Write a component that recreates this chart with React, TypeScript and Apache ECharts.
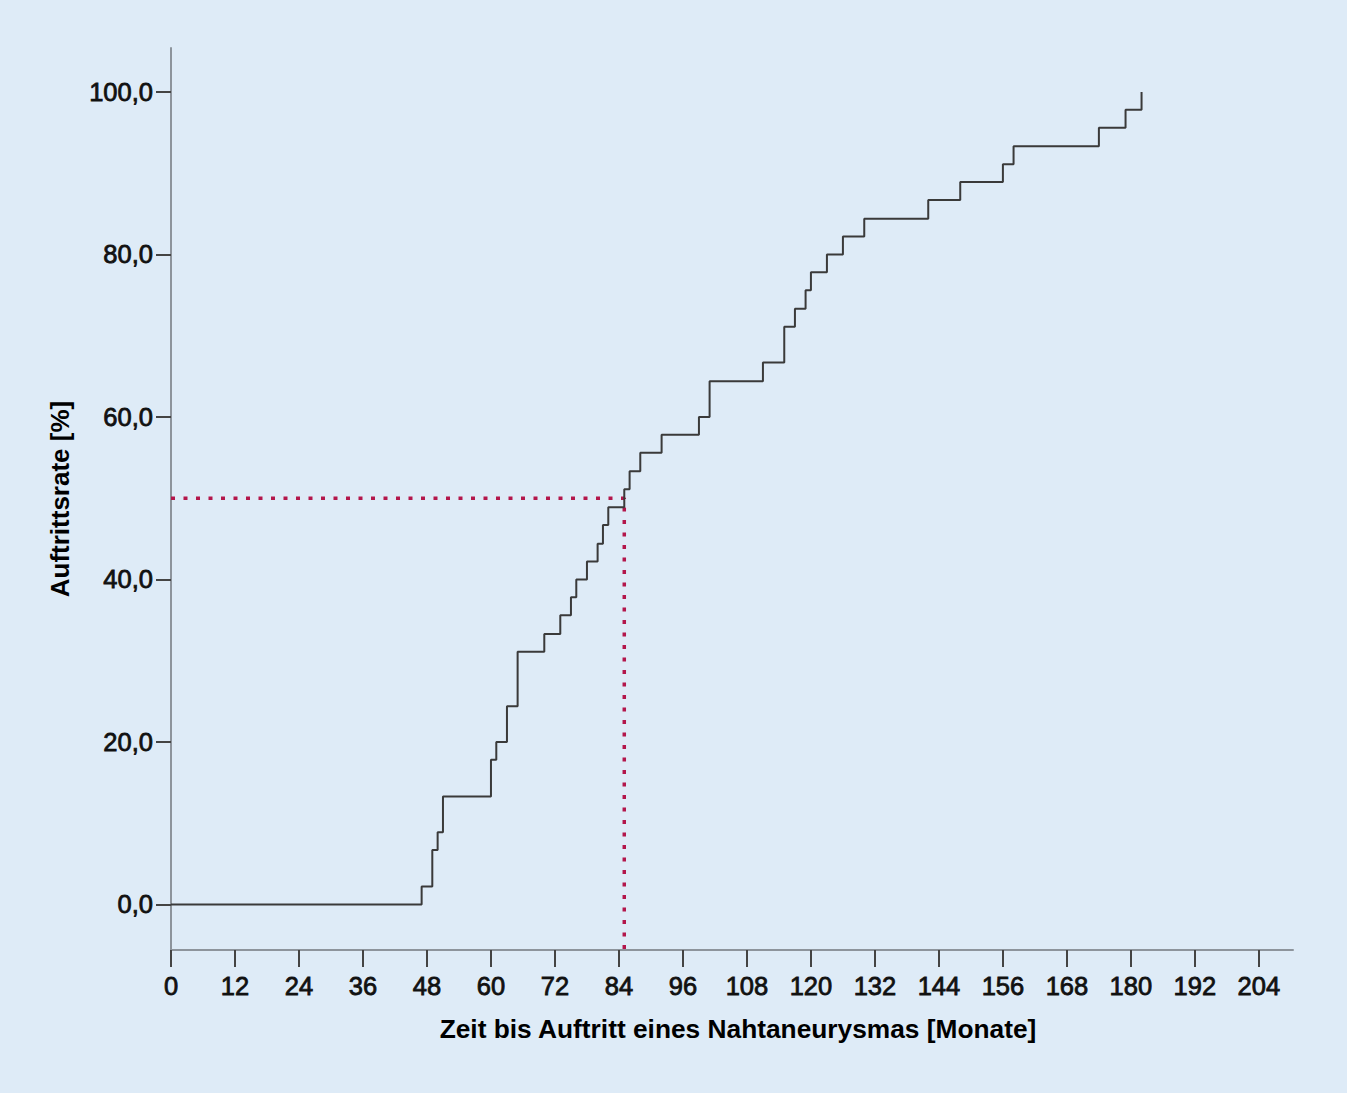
import React, { useEffect, useRef } from "react";
import * as echarts from "echarts";

// Step function: months at which the cumulative rate jumps, and the rate after the jump (%)
const eventMonths = [0, 47, 49, 50, 51, 60, 61, 63, 65, 70, 73, 75, 76, 78, 80, 81, 82, 85, 86, 88, 92, 99, 101, 111, 115, 117, 119, 120, 123, 126, 130, 142, 148, 156, 158, 174, 179, 182];
const cumulativeRate = [0, 2.2, 6.7, 8.9, 13.3, 17.8, 20.0, 24.4, 31.1, 33.3, 35.6, 37.8, 40.0, 42.2, 44.4, 46.7, 48.9, 51.1, 53.3, 55.6, 57.8, 60.0, 64.4, 66.7, 71.1, 73.3, 75.6, 77.8, 80.0, 82.2, 84.4, 86.7, 88.9, 91.1, 93.3, 95.6, 97.8, 100.0];

// Median reference line (50 % at 85 months)
const medianX = [0, 85, 85];
const medianY = [50, 50, -5.6];

const xTicks = [0, 12, 24, 36, 48, 60, 72, 84, 96, 108, 120, 132, 144, 156, 168, 180, 192, 204];
const yTicks = [0, 20, 40, 60, 80, 100];

const FONT = "'Liberation Sans', Arial, sans-serif";

export default function App() {
  const ref = useRef<HTMLDivElement>(null);
  useEffect(() => {
    if (!ref.current) return;
    const chart = echarts.init(ref.current, null, { renderer: "svg" });
    const stepData = eventMonths.map((m, i) => [m, cumulativeRate[i]]);
    const medianData = medianX.map((m, i) => [m, medianY[i]]);
    chart.setOption({
      animation: false,
      backgroundColor: "#deebf7",
      grid: { left: 171, right: 54, top: 48, bottom: 143, containLabel: false },
      xAxis: {
        type: "value",
        min: 0,
        max: 210.4,
        name: "Zeit bis Auftritt eines Nahtaneurysmas [Monate]",
        nameLocation: "middle",
        nameGap: 66,
        nameTextStyle: { fontFamily: FONT, fontSize: 26.3, fontWeight: "bold", color: "#000", padding: [0, 0, 0, 12] },
        axisLine: { show: true, onZero: false, lineStyle: { color: "#8d949c", width: 2 } },
        axisTick: { show: true, length: 17, customValues: xTicks, lineStyle: { color: "#444", width: 2 } },
        axisLabel: {
          customValues: xTicks,
          margin: 23,
          fontFamily: FONT,
          fontSize: 25.5,
          color: "#111",
          textBorderColor: "#111",
          textBorderWidth: 0.8,
          formatter: (v: number) => String(v),
        },
        splitLine: { show: false },
      },
      yAxis: {
        type: "value",
        min: -5.6,
        max: 105.4,
        name: "Auftrittsrate [%]",
        nameLocation: "middle",
        nameGap: 98,
        nameRotate: 90,
        nameTextStyle: { fontFamily: FONT, fontSize: 26, fontWeight: "bold", color: "#000" },
        axisLine: { show: true, onZero: false, lineStyle: { color: "#8d949c", width: 2 } },
        axisTick: { show: true, length: 15, customValues: yTicks, lineStyle: { color: "#444", width: 2 } },
        axisLabel: {
          customValues: yTicks,
          margin: 18,
          fontFamily: FONT,
          fontSize: 25.5,
          color: "#111",
          textBorderColor: "#111",
          textBorderWidth: 0.8,
          formatter: (v: number) => v.toFixed(1).replace(".", ","),
        },
        splitLine: { show: false },
      },
      series: [
        {
          type: "line",
          data: medianData,
          showSymbol: false,
          silent: true,
          z: 1,
          lineStyle: { color: "#b3164b", width: 3.5, type: [4, 8.5], cap: "butt" },
        },
        {
          type: "line",
          step: "end",
          data: stepData,
          showSymbol: false,
          silent: true,
          z: 2,
          lineStyle: { color: "#3a3a3a", width: 2 },
        },
      ],
    });
    return () => chart.dispose();
  }, []);
  return <div ref={ref} style={{ position: "fixed", left: 0, top: 0, width: 1347, height: 1093 }} />;
}
